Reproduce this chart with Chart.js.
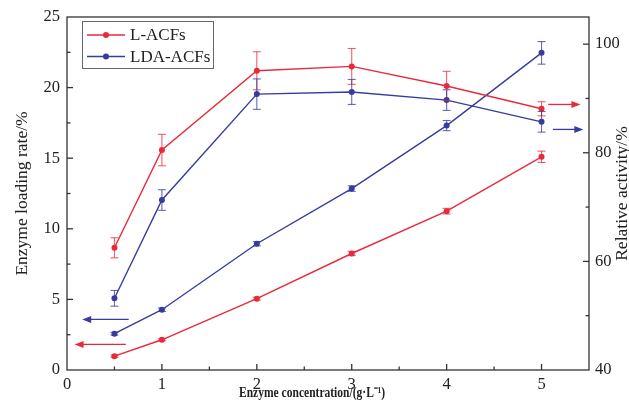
<!DOCTYPE html>
<html><head><meta charset="utf-8">
<script src="https://cdn.jsdelivr.net/npm/chart.js@4.4.0/dist/chart.umd.min.js"></script>
<style>html,body{margin:0;padding:0;background:#fff}canvas{display:block}</style>
</head><body>
<canvas id="c" width="629" height="408"></canvas>
<script>
// ---- data ----
const concentrations = [0.5, 1, 2, 3, 4, 5];
const loadingL       = [0.98, 2.14, 5.05, 8.25, 11.25, 15.1];
const loadingLErr    = [0.08, 0.08, 0.1, 0.15, 0.2, 0.4];
const loadingLDA     = [2.57, 4.27, 8.94, 12.85, 17.31, 22.46];
const loadingLDAErr  = [0.1, 0.12, 0.15, 0.2, 0.36, 0.8];
const activityL      = [62.5, 80.5, 95.1, 95.9, 92.3, 88.1];
const activityLErr   = [1.85, 2.9, 3.5, 3.3, 2.7, 1.3];
const activityLDA    = [53.2, 71.3, 90.8, 91.2, 89.7, 85.7];
const activityLDAErr = [1.45, 1.9, 2.8, 2.3, 1.9, 1.9];
const seriesNames = ['L-ACFs', 'LDA-ACFs'];
const xTickLabels = [0, 1, 2, 3, 4, 5];
const leftTickLabels = [0, 5, 10, 15, 20, 25];
const rightTickLabels = [40, 60, 80, 100];
const xTitle = 'Enzyme concentration/(g\u00B7L\u207B\u00B9)';
const leftTitle = 'Enzyme loading rate/%';
const rightTitle = 'Relative activity/%';
// axis-indicator arrows (data units: y on its axis, x from -> to)
const arrowLoadL   = {axis: 'y',  y: 1.81, from: 0.62, to: 0.08};
const arrowLoadLDA = {axis: 'y',  y: 3.58, from: 0.65, to: 0.16};
const arrowActL    = {axis: 'y1', y: 88.9, from: 5.07, to: 5.41};
const arrowActLDA  = {axis: 'y1', y: 84.3, from: 5.12, to: 5.44};

const RED = '#e92a3a', BLUE = '#373c9d';
const FONT = 'Liberation Serif, Times New Roman, serif';
const TXT = '#222';

function pts(ys) { return concentrations.map((x, i) => ({x: x, y: ys[i]})); }
function mk(label, ys, errs, axis, color, inLegend) {
  return {label: label, data: pts(ys), errors: errs, yAxisID: axis, inLegend: inLegend,
    borderColor: color, backgroundColor: color, borderWidth: 1.4,
    pointRadius: 3, pointHoverRadius: 3, pointBorderWidth: 0, tension: 0, fill: false};
}
const datasets = [
  mk(seriesNames[0], activityL, activityLErr, 'y1', RED, true),
  mk(seriesNames[1], activityLDA, activityLDAErr, 'y1', BLUE, true),
  mk(seriesNames[0], loadingL, loadingLErr, 'y', RED, false),
  mk(seriesNames[1], loadingLDA, loadingLDAErr, 'y', BLUE, false)
];
const arrows = [
  Object.assign({color: RED}, arrowLoadL), Object.assign({color: BLUE}, arrowLoadLDA),
  Object.assign({color: RED}, arrowActL), Object.assign({color: BLUE}, arrowActLDA)
];

function line(ctx, x1, y1, x2, y2) { ctx.beginPath(); ctx.moveTo(x1, y1); ctx.lineTo(x2, y2); ctx.stroke(); }

const frameTicks = {
  id: 'frameTicks',
  afterDraw(chart) {
    const {ctx, chartArea: a, scales} = chart;
    ctx.save();
    ctx.strokeStyle = '#333'; ctx.lineWidth = 1.3;
    ctx.strokeRect(a.left, a.top, a.right - a.left, a.bottom - a.top);
    const xs = scales.x;
    xs.ticks.forEach(t => {
      if (t.value <= xs.min || t.value >= xs.max) return;
      const px = xs.getPixelForValue(t.value);
      line(ctx, px, a.bottom, px, a.bottom - (Number.isInteger(t.value) ? 6 : 3.5));
    });
    const yl = scales.y;
    yl.ticks.forEach(t => {
      if (t.value <= yl.min || t.value >= yl.max) return;
      const py = yl.getPixelForValue(t.value);
      line(ctx, a.left, py, a.left + (t.value % 5 === 0 ? 6 : 3.5), py);
    });
    const yr = scales.y1;
    yr.ticks.forEach(t => {
      if (t.value <= yr.min || t.value >= yr.max || t.value % 10 !== 0) return;
      const py = yr.getPixelForValue(t.value);
      line(ctx, a.right, py, a.right - ((t.value - 40) % 20 === 0 ? 6 : 3.5), py);
    });
    // custom titles: x title (slightly condensed) and right title (reads bottom-to-top)
    ctx.fillStyle = TXT;
    ctx.textAlign = 'center'; ctx.textBaseline = 'middle';
    ctx.font = 'bold 15px ' + FONT;
    const w = ctx.measureText(xTitle).width;
    ctx.save();
    ctx.translate(312, 393);
    ctx.scale(146 / w, 1);
    ctx.fillText(xTitle, 0, 0);
    ctx.restore();
    ctx.save();
    ctx.font = '17.5px ' + FONT;
    ctx.translate(622, (a.top + a.bottom) / 2);
    ctx.rotate(-Math.PI / 2);
    ctx.fillText(rightTitle, 0, 0);
    ctx.restore();
    ctx.restore();
  }
};

const errorBars = {
  id: 'errorBars',
  afterDatasetsDraw(chart) {
    const {ctx, scales} = chart;
    ctx.save(); ctx.lineWidth = 1.1;
    chart.data.datasets.forEach(ds => {
      const ys = scales[ds.yAxisID];
      ctx.strokeStyle = ds.borderColor; ctx.globalAlpha = 0.75;
      ds.data.forEach((p, i) => {
        const e = ds.errors[i];
        const px = scales.x.getPixelForValue(p.x);
        const t = ys.getPixelForValue(p.y + e), b = ys.getPixelForValue(p.y - e);
        line(ctx, px, t, px, b);
        line(ctx, px - 4, t, px + 4, t);
        line(ctx, px - 4, b, px + 4, b);
      });
    });
    ctx.restore();
  }
};

const arrowPlugin = {
  id: 'arrows',
  afterDatasetsDraw(chart) {
    const {ctx, scales} = chart;
    ctx.save(); ctx.lineWidth = 1.3;
    arrows.forEach(ar => {
      const y = scales[ar.axis].getPixelForValue(ar.y);
      const x1 = scales.x.getPixelForValue(ar.from), x2 = scales.x.getPixelForValue(ar.to);
      const dir = Math.sign(x2 - x1);
      ctx.strokeStyle = ar.color; ctx.fillStyle = ar.color;
      line(ctx, x1, y, x2 - dir * 6, y);
      ctx.beginPath(); ctx.moveTo(x2, y); ctx.lineTo(x2 - dir * 9, y - 3.5); ctx.lineTo(x2 - dir * 9, y + 3.5); ctx.closePath(); ctx.fill();
    });
    ctx.restore();
  }
};

const boxLegend = {
  id: 'boxLegend',
  afterDraw(chart) {
    const {ctx} = chart;
    const items = chart.data.datasets.filter(d => d.inLegend);
    ctx.save();
    ctx.strokeStyle = '#666'; ctx.lineWidth = 1;
    ctx.strokeRect(82.5, 21.5, 131, 47);
    items.forEach((d, i) => {
      const y = 35 + i * 21.5;
      ctx.strokeStyle = d.borderColor; ctx.fillStyle = d.borderColor; ctx.lineWidth = 1.4;
      line(ctx, 87, y, 125, y);
      ctx.beginPath(); ctx.arc(106, y, 3, 0, Math.PI * 2); ctx.fill();
      ctx.fillStyle = TXT; ctx.font = '17px ' + FONT; ctx.textAlign = 'left'; ctx.textBaseline = 'middle';
      ctx.fillText(d.label, 130, y + 1);
    });
    ctx.restore();
  }
};

const tickFont = {family: FONT, size: 16.5};
new Chart(document.getElementById('c'), {
  type: 'line',
  data: {datasets: datasets},
  plugins: [errorBars, arrowPlugin, frameTicks, boxLegend],
  options: {
    responsive: false, animation: false, devicePixelRatio: 1,
    layout: {padding: {top: 17, left: 0, right: 0, bottom: 0}},
    plugins: {legend: {display: false}, tooltip: {enabled: false}},
    scales: {
      x: {type: 'linear', min: 0, max: 5.5,
        ticks: {stepSize: 0.5, autoSkip: false, maxRotation: 0, padding: 5, color: TXT, font: tickFont,
          callback: v => xTickLabels.includes(v) ? String(v) : ''},
        grid: {display: false, drawTicks: false}, border: {display: false},
        afterFit: s => { s.height = 38; }},
      y: {position: 'left', min: 0, max: 25,
        ticks: {stepSize: 2.5, autoSkip: false, padding: 7, color: TXT, font: tickFont,
          callback: v => leftTickLabels.includes(v) ? String(v) : ''},
        title: {display: true, text: leftTitle, color: TXT, font: {family: FONT, size: 17.5}, padding: {top: 12, bottom: 0}},
        grid: {display: false, drawTicks: false}, border: {display: false},
        afterFit: s => { s.width = 67; }},
      y1: {position: 'right', min: 40, max: 105,
        ticks: {stepSize: 10, autoSkip: false, padding: 6, color: TXT, font: tickFont,
          callback: v => rightTickLabels.includes(v) ? String(v) : ''},
        grid: {display: false, drawTicks: false}, border: {display: false},
        afterFit: s => { s.width = 40; }}
    }
  }
});
</script>
</body></html>
